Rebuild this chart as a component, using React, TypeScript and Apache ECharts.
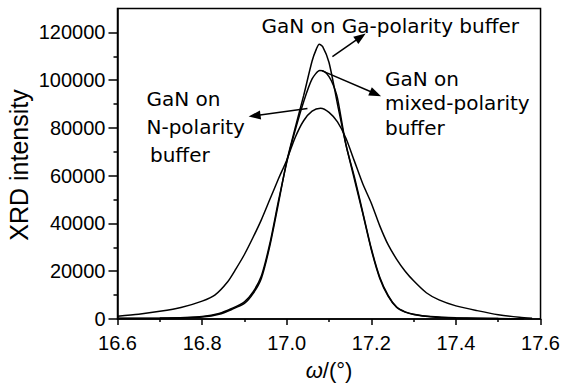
import React, { useEffect, useRef } from "react";
import * as echarts from "echarts";

// ω (degrees) and XRD intensity
const gaX = [16.6, 16.7, 16.76, 16.8, 16.84, 16.87, 16.9, 16.92, 16.94, 16.96, 16.98, 17.0, 17.02, 17.04, 17.06, 17.07, 17.077, 17.085, 17.1, 17.12, 17.14, 17.16, 17.18, 17.2, 17.22, 17.24, 17.26, 17.28, 17.3, 17.34, 17.4, 17.5, 17.56];
const gaY = [200, 300, 500, 800, 2000, 4000, 6500, 10500, 17000, 30500, 48000, 66000, 80000, 93500, 108000, 113000, 115000, 114000, 107400, 90000, 73000, 58500, 44000, 29000, 17000, 9500, 4800, 2900, 1900, 900, 400, 200, 100];

const mixX = [16.6, 16.7, 16.76, 16.8, 16.84, 16.87, 16.9, 16.92, 16.94, 16.96, 16.98, 17.0, 17.02, 17.04, 17.06, 17.078, 17.09, 17.1, 17.11, 17.12, 17.14, 17.16, 17.18, 17.2, 17.22, 17.24, 17.26, 17.28, 17.3, 17.34, 17.4, 17.5, 17.56];
const mixY = [300, 400, 600, 1000, 2300, 4400, 7200, 11200, 18000, 31500, 49000, 65500, 79000, 91000, 100500, 104000, 103500, 101500, 98000, 92500, 73000, 59500, 44500, 29500, 17500, 9800, 5000, 3000, 2000, 1000, 500, 200, 100];

const nX = [16.6, 16.65, 16.7, 16.75, 16.8, 16.83, 16.86, 16.88, 16.9, 16.92, 16.94, 16.96, 16.98, 17.0, 17.02, 17.04, 17.06, 17.08, 17.1, 17.12, 17.14, 17.16, 17.18, 17.2, 17.22, 17.24, 17.26, 17.28, 17.3, 17.33, 17.36, 17.4, 17.45, 17.5, 17.55, 17.58];
const nY = [1200, 2000, 3200, 4800, 7500, 10000, 15500, 21000, 27000, 34000, 41500, 50000, 58500, 66500, 76000, 83000, 87000, 88200, 86500, 82500, 75700, 66100, 56500, 48500, 39000, 31000, 25000, 20000, 16000, 11000, 8000, 5500, 3500, 1800, 700, 300];

const yMajorTicks = [0, 20000, 40000, 60000, 80000, 100000, 120000];
const yMinorTicks = [10000, 30000, 50000, 70000, 90000, 110000];

// arrows: [start, end] in data coordinates
const arrowGa = [[17.108, 109900], [17.175, 118100]];
const arrowMix = [[17.084, 103900], [17.21, 94300]];
const arrowN = [[17.049, 88100], [16.924, 85100]];

const labelGa = ["GaN on Ga-polarity buffer"];
const labelMix = ["GaN on", "mixed-polarity", "buffer"];
const labelN = ["GaN on", "N-polarity", "buffer"];

const FONT_TICK = "Liberation Sans";
const FONT_ANN = "DejaVu Sans";
const FONT_NAME = "Liberation Sans";

function zip(xs: number[], ys: number[]) {
  return xs.map((x, i) => [x, ys[i]]);
}

export default function App() {
  const ref = useRef<HTMLDivElement>(null);
  useEffect(() => {
    if (!ref.current) return;
    const chart = echarts.init(ref.current, null, { renderer: "svg" });
    const lineStyle = { color: "#000", width: 1.5 };
    const textEl = (text: string, x: number, y: number, size = 20) => ({
      type: "text",
      x,
      y,
      style: { text, fontFamily: FONT_ANN, fontSize: size, fill: "#000", align: "left", verticalAlign: "middle" },
    });
    const arrowData = [arrowGa, arrowMix, arrowN].map((a) => [{ coord: a[0] }, { coord: a[1] }]);
    chart.setOption({
      animation: false,
      backgroundColor: "#fff",
      grid: { left: 117.5, right: 20, top: 8.5, bottom: 62.5, show: true, borderColor: "#000", borderWidth: 1.5 },
      xAxis: {
        type: "value",
        min: 16.6,
        max: 17.6,
        interval: 0.2,
        axisLine: { show: true, lineStyle: { color: "#000", width: 1.5 } },
        axisTick: { show: true, length: 6, lineStyle: { color: "#000", width: 1.5 } },
        minorTick: { show: true, splitNumber: 2, length: 3, lineStyle: { color: "#000", width: 1.5 } },
        splitLine: { show: false },
        axisLabel: { fontFamily: FONT_TICK, fontSize: 20, color: "#000", margin: 14, formatter: (v: number) => v.toFixed(1) },
        name: "{i|ω}/(°)",
        nameLocation: "middle",
        nameGap: 40,
        nameTextStyle: {
          fontFamily: FONT_NAME,
          fontSize: 22,
          color: "#000",
          rich: { i: { fontFamily: FONT_NAME, fontSize: 22, fontStyle: "italic", color: "#000" } },
        },
      },
      yAxis: [
        {
          type: "value",
          min: 0,
          max: 130000,
          interval: 10000,
          axisLine: { show: true, lineStyle: { color: "#000", width: 1.5 } },
          axisTick: { show: true, length: 9, customValues: yMajorTicks, lineStyle: { color: "#000", width: 1.5 } },
          splitLine: { show: false },
          axisLabel: { fontFamily: FONT_TICK, fontSize: 20, color: "#000", margin: 12, customValues: yMajorTicks, formatter: (v: number) => String(v) },
        },
        {
          type: "value",
          min: 0,
          max: 130000,
          interval: 10000,
          position: "left",
          axisLine: { show: false },
          axisTick: { show: true, length: 4, customValues: yMinorTicks, lineStyle: { color: "#000", width: 1.5 } },
          splitLine: { show: false },
          axisLabel: { show: false },
        },
      ],
      series: [
        { type: "line", data: zip(gaX, gaY), showSymbol: false, smooth: 0.25, lineStyle, silent: true },
        { type: "line", data: zip(mixX, mixY), showSymbol: false, smooth: 0.25, lineStyle, silent: true },
        {
          type: "line",
          data: zip(nX, nY),
          showSymbol: false,
          smooth: 0.25,
          lineStyle,
          silent: true,
          markLine: {
            silent: true,
            symbol: ["none", "triangle"],
            symbolSize: [9, 12],
            label: { show: false },
            lineStyle: { color: "#000", width: 1.5, type: "solid" },
            data: arrowData,
          },
        },
      ],
      graphic: [
        ...labelGa.map((t) => textEl(t, 261.5, 26)),
        ...labelMix.map((t, i) => textEl(t, 385, 78.5 + i * 24.5)),
        textEl(labelN[0], 146.5, 99),
        textEl(labelN[1], 146.5, 127),
        textEl(labelN[2], 150, 155),
        {
          type: "text",
          x: 19,
          y: 165,
          rotation: Math.PI / 2,
          style: { text: "XRD intensity", fontFamily: FONT_NAME, fontSize: 25, fill: "#000", align: "center", verticalAlign: "middle" },
        },
      ],
    });
    return () => chart.dispose();
  }, []);
  return <div ref={ref} style={{ position: "fixed", left: 0, top: 0, width: 563, height: 386, background: "#fff" }} />;
}
